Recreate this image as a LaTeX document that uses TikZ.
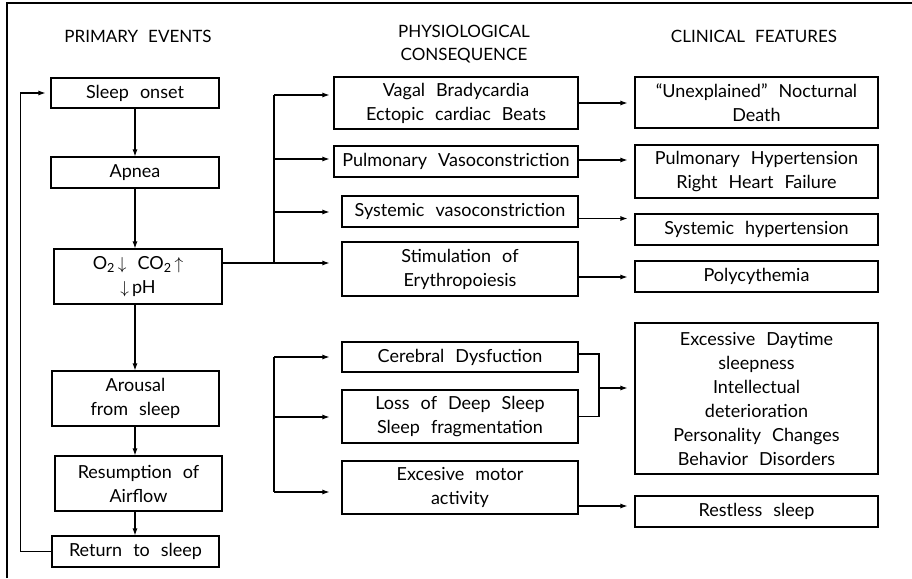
\documentclass[tikz,border=0pt]{standalone}
\usepackage{fontspec}
\setmainfont{Lato}
\usetikzlibrary{arrows.meta}
\newcommand\boxfont{\fontsize{18}{24}\selectfont\spaceskip=11pt plus 2pt\relax}
\newcommand\headfont{\fontsize{17}{23}\selectfont\spaceskip=10pt\relax}
\tikzset{
	box/.style={draw, line width=1.1pt, align=center, inner sep=0pt, font=\boxfont},
	head/.style={align=center, font=\headfont},
	arr/.style={-{Latex[length=7pt,width=5pt]}, line width=1.1pt},
	ln/.style={line width=1.1pt}
}
\begin{document}
\begin{tikzpicture}[x=1pt,y=-1pt]
				\useasboundingbox (0,0) rectangle (912,578);
				\draw [line width=1.3pt] (7,578) -- (7,3) -- (912,3);
				% headings
				\node [head] (h1) at (138,36) {PRIMARY EVENTS};
				\node [head] (h2) at (464,44) {PHYSIOLOGICAL\\CONSEQUENCE};
				\node [head] (h3) at (754,36) {CLINICAL FEATURES};
				
				% primary events
				\node [box, minimum width=168, minimum height=30] (onset) at (135,93) {Sleep onset};
				\node [box, minimum width=168, minimum height=31] (apnea) at (135,172.5) {Apnea};
				\node [box, minimum width=168, minimum height=55] (gas) at (138,276.5) {O\textsubscript{2}\,$\downarrow$ CO\textsubscript{2}\,$\uparrow$\\$\downarrow$\,pH};
				\node [box, minimum width=167, minimum height=55] (arousal) at (135.5,398.5) {Arousal\\from sleep};
				\node [box, minimum width=167, minimum height=55] (resume) at (138.5,483.5) {Resumption of\\Airflow};
				\node [box, minimum width=167, minimum height=31] (ret) at (135.5,551.5) {Return to sleep};
				
				% physiological consequence
				\node [box, minimum width=244, minimum height=52] (vagal) at (456,103) {Vagal Bradycardia\\Ectopic cardiac Beats};
				\node [box, minimum width=244, minimum height=31] (pulm) at (456,161.5) {Pulmonary Vasoconstriction};
				\node [box, minimum width=236, minimum height=31] (sysv) at (460,211.5) {Systemic vasoconstriction};
				\node [box, minimum width=236, minimum height=54] (stim) at (460,269) {Stimulation of\\Erythropoiesis};
				\node [box, minimum width=236, minimum height=30] (cereb) at (460,357) {Cerebral Dysfuction};
				\node [box, minimum width=236, minimum height=53] (loss) at (460,416.5) {Loss of Deep Sleep\\Sleep fragmentation};
				\node [box, minimum width=236, minimum height=53] (motor) at (460,487.5) {Excesive motor\\activity};
				
				% clinical features
				\node [box, minimum width=243, minimum height=51] (death) at (756.5,102.5) {“Unexplained” Nocturnal\\Death};
				\node [box, minimum width=243, minimum height=53] (pht) at (756.5,171.5) {Pulmonary Hypertension\\Right Heart Failure};
				\node [box, minimum width=243, minimum height=31] (syh) at (756.5,229.5) {Systemic hypertension};
				\node [box, minimum width=243, minimum height=31] (poly) at (756.5,276.5) {Polycythemia};
				\node [box, minimum width=243, minimum height=151] (neuro) at (756.5,398.5) {Excessive Daytime\\sleepness\\Intellectual\\deterioration\\Personality Changes\\Behavior Disorders};
				\node [box, minimum width=243, minimum height=31] (restless) at (756.5,511.5) {Restless sleep};
				
				% left chain
				\draw [arr] (onset) -- (apnea);
				\draw [arr] (apnea.south) -- (apnea.south |- gas.north);
				\draw [arr] (gas.south -| apnea.south) -- (arousal.north -| apnea.south);
				\draw [arr] (arousal.south -| apnea.south) -- (resume.north -| apnea.south);
				\draw [arr] (resume.south -| apnea.south) -- (ret.north -| apnea.south);
				\draw [arr, shorten >=5pt] (ret.west) -- ++(-31,0) |- (onset.west);
				
				% upper fan
				\coordinate (hub) at (274,263);
				\coordinate (t1) at (274,95);
				\coordinate (t2) at (274,159);
				\coordinate (t3) at (274,212);
				\draw [ln] ([yshift=13.5pt]gas.east) -- (hub) -- (t1);
				\draw [arr, shorten >=4pt] (t1) -- (t1 -| vagal.west);
				\draw [arr, shorten >=4pt] (t2) -- (t2 -| pulm.west);
				\draw [arr, shorten >=12pt] (t3) -- (t3 -| sysv.west);
				\draw [arr, shorten >=12pt] (hub) -- (hub -| stim.west);
				
				% lower fan
				\coordinate (b1) at (274,357);
				\coordinate (b2) at (274,417);
				\coordinate (b3) at (274,492);
				\draw [ln] (b1) -- (b3);
				\draw [arr, shorten >=12pt] (b1) -- (b1 -| cereb.west);
				\draw [arr, shorten >=12pt] (b2) -- (b2 -| loss.west);
				\draw [arr, shorten >=12pt] (b3) -- (b3 -| motor.west);
				
				% to clinical features
				\draw [arr, shorten >=7pt] (vagal.east) -- (vagal.east -| death.west);
				\draw [arr, shorten >=7pt] ([yshift=1.5pt]pulm.east) -- ([yshift=1.5pt]pulm.east -| pht.west);
				\draw [arr, shorten >=7pt] ([yshift=-7pt]sysv.east) -- ([yshift=-7pt]sysv.east -| syh.west);
				\draw [arr, shorten >=7pt] ([yshift=-8pt]stim.east) -- ([yshift=-8pt]stim.east -| poly.west);
				\coordinate (jn) at (599,388);
				\draw [ln] ([yshift=3pt]cereb.east) -| (jn) |- (loss.east);
				\draw [arr, shorten >=7pt] (jn) -- (jn -| neuro.west);
				\draw [arr, shorten >=7pt] ([yshift=-18.5pt]motor.east) -- ([yshift=-18.5pt]motor.east -| restless.west);
			\end{tikzpicture}
\end{document}
